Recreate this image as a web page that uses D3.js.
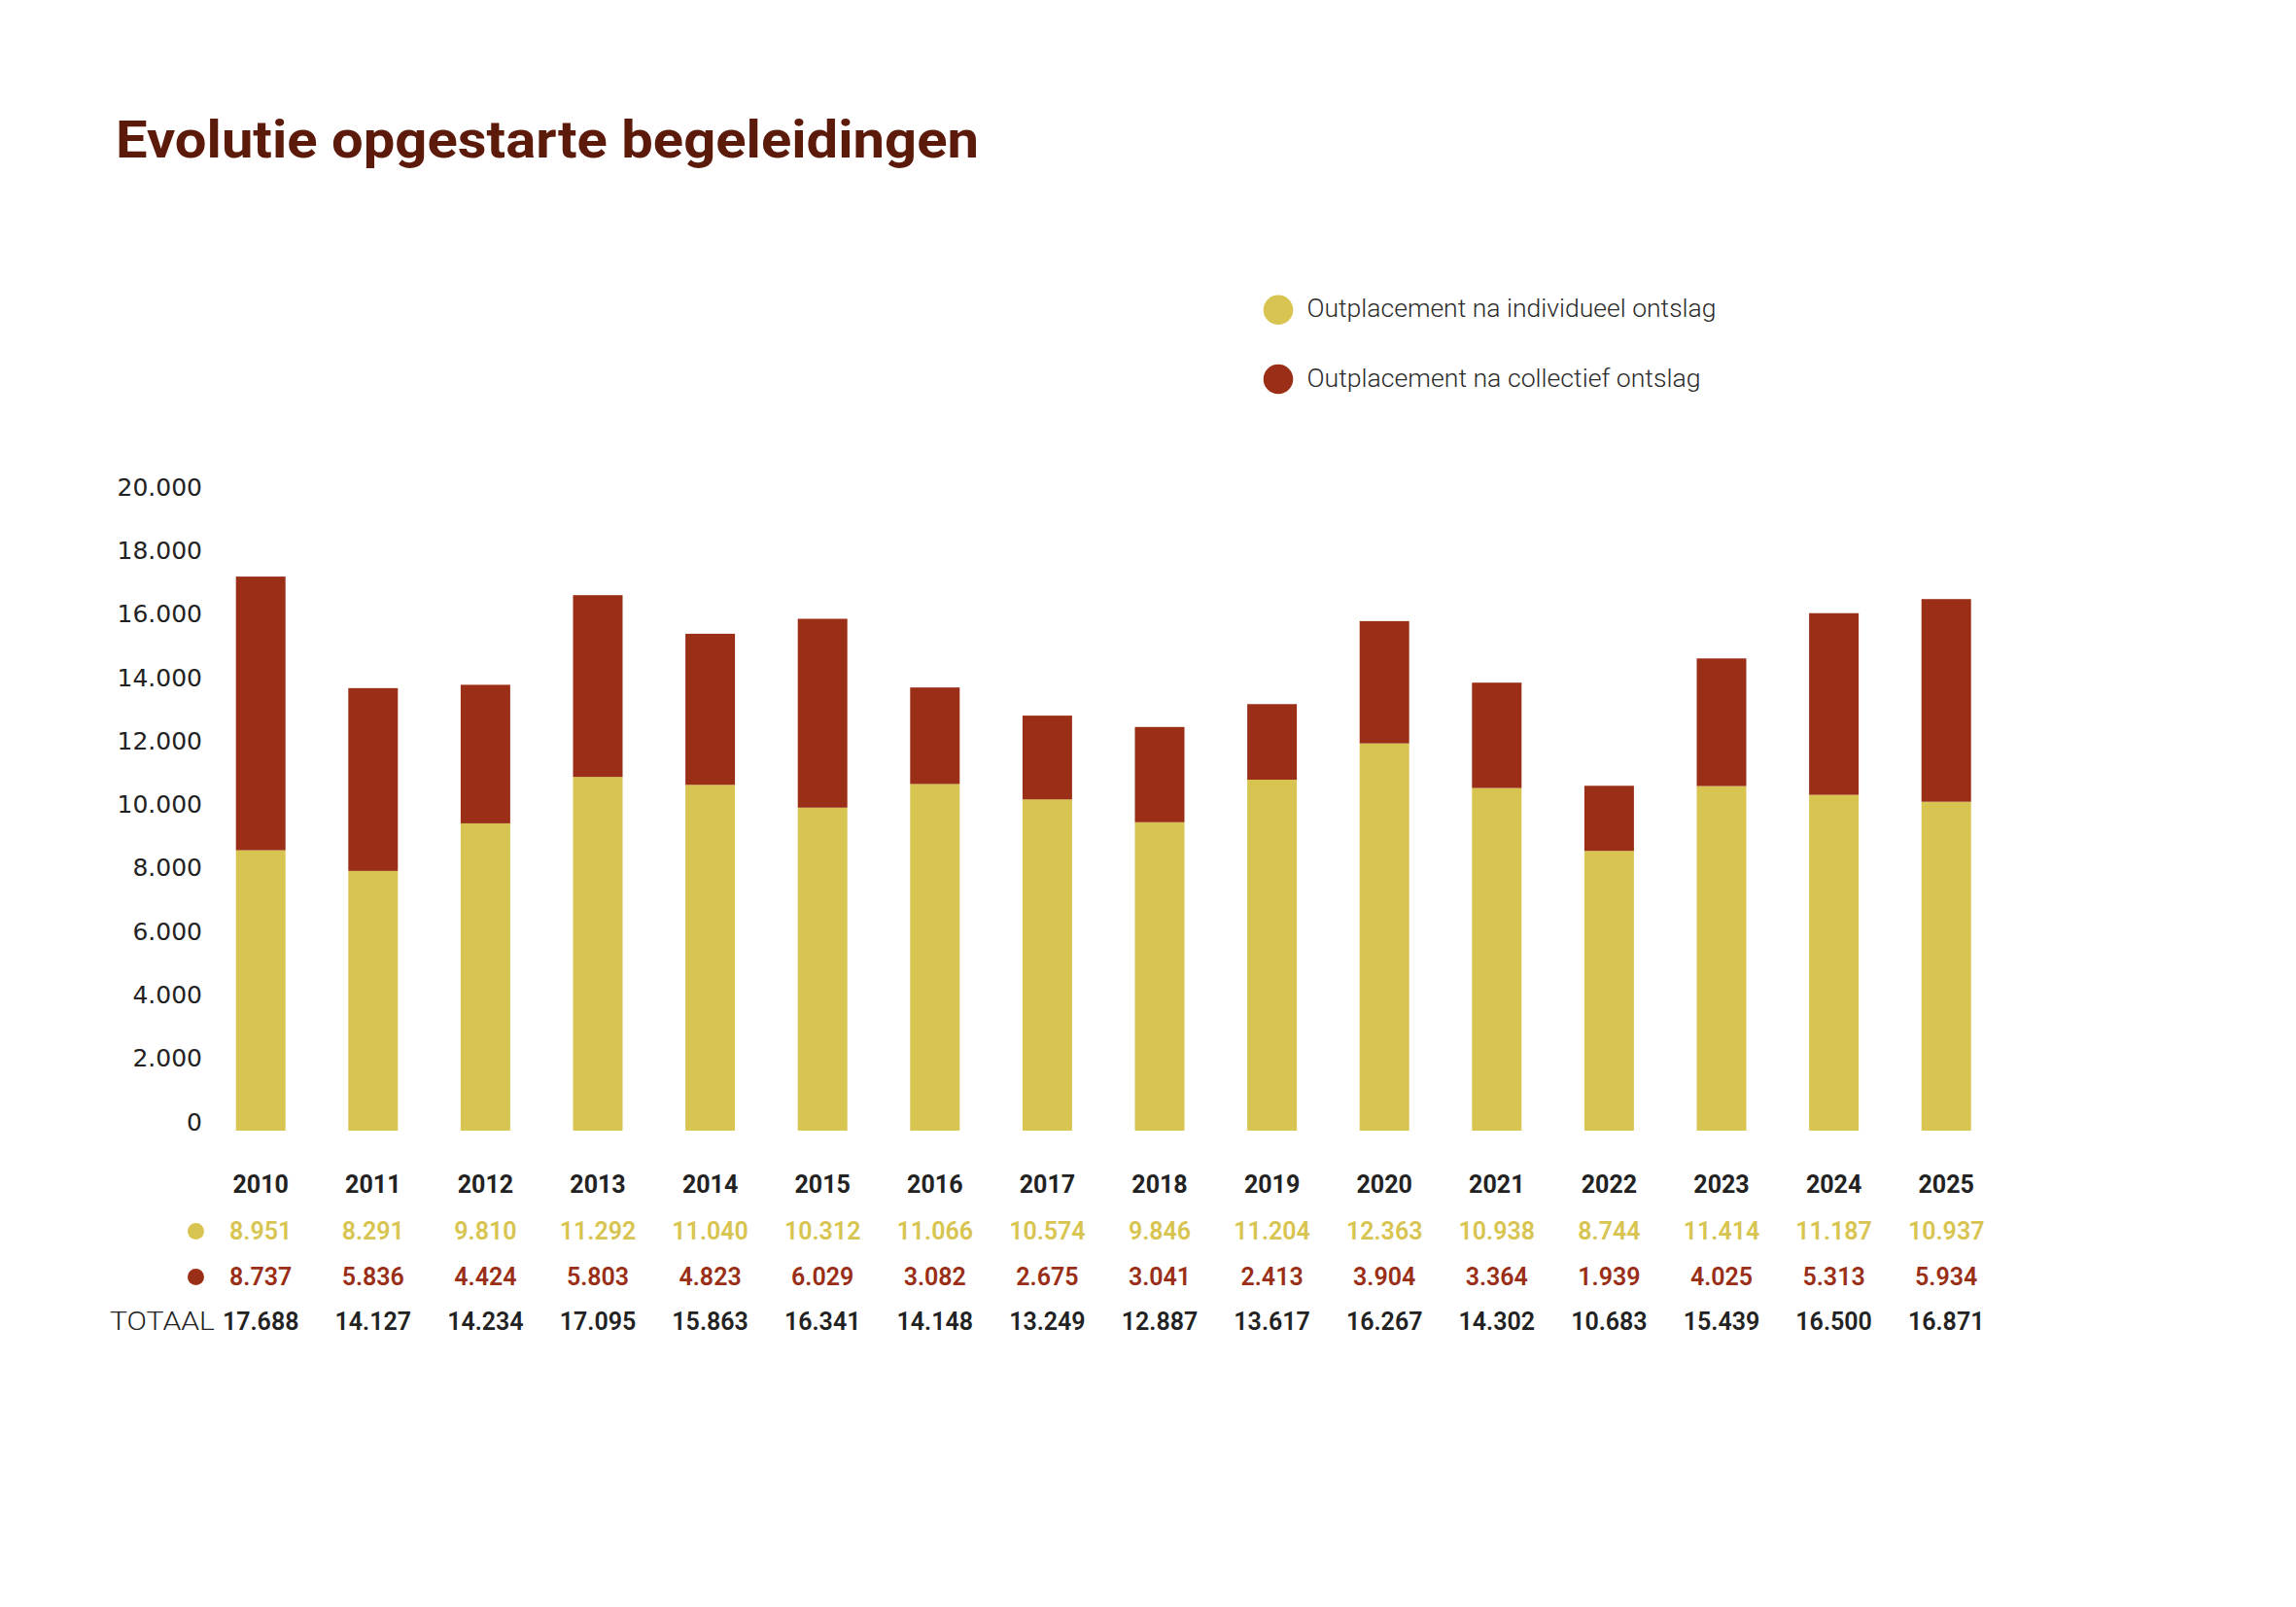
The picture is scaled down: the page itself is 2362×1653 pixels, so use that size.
<!DOCTYPE html>
<html>
<head>
  <meta charset="utf-8">
  <script src="https://d3js.org/d3.v7.min.js"></script>
  <style>
  body {
    margin: 0;
    background: #fff;
  }
  text {
    font-family: Roboto, "Liberation Sans", sans-serif;
  }
  .y.axis text {
    font-family: "DejaVu Sans", sans-serif;
    font-size: 25px;
    fill: #222;
  }
</style>
</head>
<body>
<script>

  // categories
  var years = ["2010", "2011", "2012", "2013", "2014", "2015", "2016", "2017",
               "2018", "2019", "2020", "2021", "2022", "2023", "2024", "2025"];

  // bar heights as drawn (the last four bars do not follow the table below)
  var barIndividueel = [8951, 8291, 9810, 11292, 11040, 10312, 11066, 10574,
                        9846, 11204, 12363, 10938, 8930, 11000, 10720, 10500];
  var barCollectief  = [8737, 5836, 4424, 5803, 4823, 6029, 3082, 2675,
                        3041, 2413, 3904, 3364, 2080, 4075, 5800, 6470];

  // figures printed in the table under the chart
  var tabelIndividueel = [8951, 8291, 9810, 11292, 11040, 10312, 11066, 10574,
                          9846, 11204, 12363, 10938, 8744, 11414, 11187, 10937];
  var tabelCollectief  = [8737, 5836, 4424, 5803, 4823, 6029, 3082, 2675,
                          3041, 2413, 3904, 3364, 1939, 4025, 5313, 5934];
  var tabelTotaal      = [17688, 14127, 14234, 17095, 15863, 16341, 14148, 13249,
                          12887, 13617, 16267, 14302, 10683, 15439, 16500, 16871];

  // y axis tick labels
  var yTicks = [0, 2000, 4000, 6000, 8000, 10000, 12000, 14000, 16000, 18000, 20000];

  var series = ["Outplacement na individueel ontslag", "Outplacement na collectief ontslag"];
  var colors = ["#d8c450", "#9a2e16"];

  var nl = d3.formatLocale({decimal: ",", thousands: ".", grouping: [3], currency: ["€", ""]});
  var fmt = nl.format(",d");

  var width = 2362,
      height = 1653;

  var svg = d3.select("body").append("svg")
    .attr("width", width)
    .attr("height", height);

  var x = d3.scaleBand().domain(years).range([210.4, 2060])
    .paddingInner(0.559).paddingOuter(0.2795);
  var y = d3.scaleLinear().domain([0, 20000]).range([1163, 518.6]);
  // the printed axis labels sit on a slightly wider spacing than the bars
  var yLab = d3.scaleLinear().domain([0, 20000]).range([1162, 509.4]);

  // title
  svg.append("text")
    .attr("x", 119)
    .attr("y", 162)
    .attr("textLength", 888)
    .attr("lengthAdjust", "spacingAndGlyphs")
    .style("font-size", "54px")
    .style("font-weight", 700)
    .style("fill", "#5c1a0b")
    .text("Evolutie opgestarte begeleidingen");

  // legend
  var legendLength = [421, 405];

  var legend = svg.selectAll(".legend")
    .data(series)
    .enter().append("g")
    .attr("class", "legend")
    .attr("transform", (d, i) => "translate(1315," + (318.7 + i * 71.3) + ")");

  legend.append("circle")
    .attr("r", 15.3)
    .style("fill", (d, i) => colors[i]);

  legend.append("text")
    .attr("x", 29.5)
    .attr("y", 7.5)
    .attr("textLength", (d, i) => legendLength[i])
    .attr("lengthAdjust", "spacingAndGlyphs")
    .style("font-size", "25.5px")
    .style("font-weight", 300)
    .style("fill", "#2a2a2a")
    .text(d => d);

  // y axis, labels only
  var yAxis = svg.append("g")
    .attr("class", "y axis")
    .attr("transform", "translate(208,0)")
    .call(d3.axisLeft(yLab).tickValues(yTicks).tickSize(0).tickPadding(0).tickFormat(fmt));
  yAxis.select(".domain").remove();
  yAxis.selectAll("text").attr("dy", 0);

  // stacked bars
  var rows = years.map((yr, i) => ({year: yr, ind: barIndividueel[i], col: barCollectief[i]}));
  var stack = d3.stack().keys(["ind", "col"])(rows);

  svg.selectAll(".serie")
    .data(stack)
    .enter().append("g")
    .attr("class", "serie")
    .style("fill", (d, i) => colors[i])
    .selectAll("rect")
    .data(d => d)
    .enter().append("rect")
    .attr("x", d => x(d.data.year))
    .attr("width", x.bandwidth())
    .attr("y", d => y(d[1]))
    .attr("height", d => y(d[0]) - y(d[1]));

  // table under the chart
  var cx = d => x(d) + x.bandwidth() / 2;

  svg.append("defs").append("clipPath")
    .attr("id", "cut")
    .append("rect")
    .attr("x", 0).attr("y", 0)
    .attr("width", 2051).attr("height", height);

  svg.append("g").selectAll("text")
    .data(years)
    .enter().append("text")
    .attr("x", cx)
    .attr("y", 1227)
    .attr("text-anchor", "middle")
    .style("font-size", "25px")
    .style("font-weight", 700)
    .style("fill", "#222")
    .text(d => d);

  var tableRows = [
    {vals: tabelIndividueel, y: 1275, color: colors[0], dot: true},
    {vals: tabelCollectief, y: 1322, color: colors[1], dot: true},
    {vals: tabelTotaal, y: 1368, color: "#222", dot: false}
  ];

  tableRows.forEach((row, r) => {
    var g = svg.append("g");
    if (r === 0) g.attr("clip-path", "url(#cut)");
    g.selectAll("text")
      .data(row.vals)
      .enter().append("text")
      .attr("x", (d, i) => cx(years[i]))
      .attr("y", row.y)
      .attr("text-anchor", "middle")
      .style("font-size", "25px")
      .style("font-weight", 600)
      .style("fill", row.color)
      .text(d => fmt(d));
    if (row.dot) {
      svg.append("circle")
        .attr("cx", 201.5)
        .attr("cy", row.y - 8.5)
        .attr("r", 8.5)
        .style("fill", row.color);
    }
  });

  svg.append("text")
    .attr("x", 221)
    .attr("y", 1368)
    .attr("text-anchor", "end")
    .attr("textLength", 108)
    .attr("lengthAdjust", "spacingAndGlyphs")
    .style("font-size", "25px")
    .style("font-weight", 300)
    .style("fill", "#222")
    .text("TOTAAL");

</script>
</body>
</html>
